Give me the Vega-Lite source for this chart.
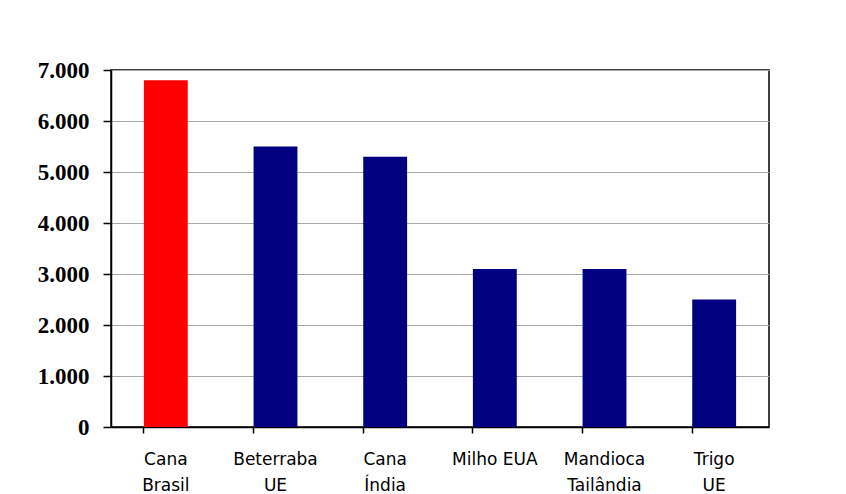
{
  "$schema": "https://vega.github.io/schema/vega-lite/v6.json",
  "width": 658,
  "height": 357,
  "autosize": "none",
  "padding": {"left": 111, "top": 70, "right": 77, "bottom": 67},
  "background": "white",
  "data": {"values": [
    {"cultura": "Cana Brasil", "valor": 6800, "destaque": "Brasil"},
    {"cultura": "Beterraba UE", "valor": 5500, "destaque": "Outros"},
    {"cultura": "Cana Índia", "valor": 5300, "destaque": "Outros"},
    {"cultura": "Milho EUA", "valor": 3100, "destaque": "Outros"},
    {"cultura": "Mandioca Tailândia", "valor": 3100, "destaque": "Outros"},
    {"cultura": "Trigo UE", "valor": 2500, "destaque": "Outros"}
  ]},
  "mark": {"type": "bar"},
  "encoding": {
    "x": {
      "field": "cultura", "type": "nominal", "sort": null, "title": null,
      "scale": {"paddingInner": 0.6, "paddingOuter": 0.3},
      "axis": {
        "labelAngle": 0, "labelFont": "DejaVu Sans", "labelFontSize": 17, "labelColor": "black",
        "labelPadding": 18, "labelLineHeight": 26,
        "labelExpr": "datum.value == 'Milho EUA' ? 'Milho EUA' : split(datum.value, ' ')",
        "bandPosition": 0, "tickColor": "black", "tickSize": 6, "tickWidth": 1.5, "domainColor": "black", "domainWidth": 1.5,
        "grid": false
      }
    },
    "y": {
      "field": "valor", "type": "quantitative", "title": null,
      "scale": {"domain": [0, 7000], "nice": false},
      "axis": {
        "values": [0, 1000, 2000, 3000, 4000, 5000, 6000, 7000],
        "labelExpr": "replace(format(datum.value, ','), ',', '.')",
        "labelFont": "Liberation Serif", "labelFontWeight": "bold", "labelFontSize": 23, "labelColor": "black",
        "labelPadding": 14, "tickColor": "black", "tickSize": 8, "tickWidth": 1.5,
        "domainColor": "black", "domainWidth": 1.5,
        "grid": true, "gridColor": "#a8a8a8", "gridWidth": 1
      }
    },
    "color": {
      "field": "destaque", "type": "nominal", "legend": null,
      "scale": {"domain": ["Brasil", "Outros"], "range": ["#ff0000", "#000080"]}
    }
  },
  "config": {
    "view": {"stroke": "black", "strokeWidth": 1.5}
  }
}
